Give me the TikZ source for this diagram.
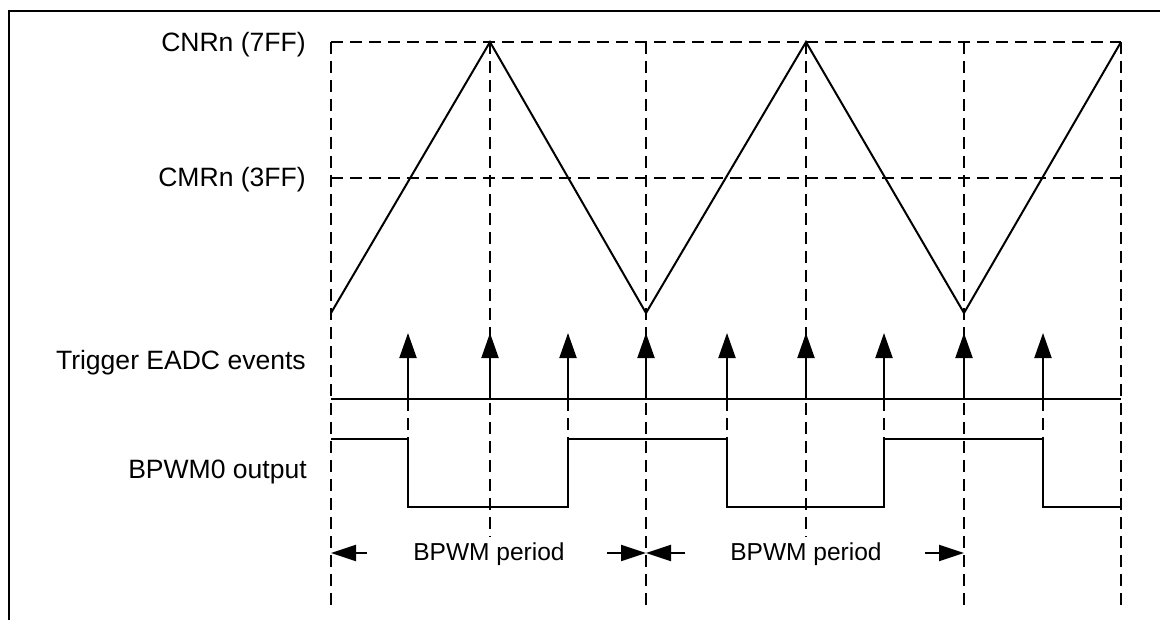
\documentclass[tikz,border=0pt]{standalone}
\usepackage{fontspec}
\setmainfont{Liberation Sans}
\usetikzlibrary{arrows.meta}
\begin{document}
\begin{tikzpicture}[x=0.75pt,y=-0.75pt,
  wave/.style={line width=1.5pt, line join=miter},
  guide/.style={line width=1.5pt, dash pattern=on 9pt off 5.25pt},
  trig/.style={line width=1.5pt, -{Triangle[length=18.75pt,width=12.75pt]}},
  per/.style={line width=1.5pt, -{Triangle[length=18.75pt,width=12pt]}},
  lbl/.style={anchor=base east, inner sep=0pt, font=\fontsize{19.9}{24}\selectfont},
  plbl/.style={anchor=base, inner sep=0pt, font=\fontsize{18.4}{22}\selectfont},
  frameline/.style={line width=1.8pt}]
\useasboundingbox (0,0) rectangle (1160,620);
% frame
\coordinate (fb) at (9,620); \coordinate (fc) at (9,11); \coordinate (fr) at (1160,11);
\draw[frameline] (fb) -- (fc) -- (fr);
% labels
\node[lbl] (cnr) at (306,52) {CNRn (7FF)};
\node[lbl] (cmr) at (306,187) {CMRn (3FF)};
\node[lbl] (trg) at (306,369) {Trigger EADC events};
\node[lbl] (out) at (307,478) {BPWM0 output};
% level guides
\coordinate (cnrL) at (331,42); \coordinate (cnrR) at (1121,42);
\coordinate (cmrL) at (331,178); \coordinate (cmrR) at (1121,178);
\draw[guide] (cnrL) -- (cnrR);
\draw[guide] (cmrL) -- (cmrR);
% full vertical guides
\foreach \n/\x/\yb in {g0/331/607, g1/490/537, g2/646/607, g3/806/537, g4/964/607, g5/1121/607}{
  \coordinate (\n top) at (\x,42);
  \coordinate (\n bot) at (\x,\yb);
  \draw[guide] (\n top) -- (\n bot);
}
% triangle counter
\coordinate (T0) at (331,313); \coordinate (P1) at (490,42);
\coordinate (T1) at (646,313); \coordinate (P2) at (806,42);
\coordinate (T2) at (964,313); \coordinate (P3) at (1121,42);
\draw[wave] (T0) -- (P1) -- (T1) -- (P2) -- (T2) -- (P3);
% trigger baseline
\coordinate (bl) at (331,399); \coordinate (br) at (1121,399);
\draw[wave] (bl) -- (br);
% trigger arrows
\foreach \x [count=\i] in {408,490,568,646,727,806,884,964,1043}{
  \coordinate (e\i) at (\x,399);
  \coordinate (a\i) at (\x,333);
  \draw[trig] (e\i) -- (a\i);
}
% short guides from events to output edges
\foreach \x [count=\i] in {408,568,727,884,1043}{
  \coordinate (s\i a) at (\x,399);
  \coordinate (s\i b) at (\x,439);
  \draw[guide] (s\i a) -- (s\i b);
}
% BPWM0 output
\coordinate (w0) at (331,439);
\draw[wave] (w0) -- (408,439) -- (408,507) -- (568,507) -- (568,439) -- (727,439)
  -- (727,507) -- (884,507) -- (884,439) -- (1043,439) -- (1043,507) -- (1121,507);
% period markers
\coordinate (p1s) at (367,553); \coordinate (p1t) at (331,553);
\coordinate (p2s) at (607,553); \coordinate (p2t) at (646,553);
\coordinate (p3s) at (685,553); \coordinate (p3t) at (646,553);
\coordinate (p4s) at (925,553); \coordinate (p4t) at (964,553);
\draw[per] (p1s) -- (p1t);
\draw[per] (p2s) -- (p2t);
\draw[per] (p3s) -- (p3t);
\draw[per] (p4s) -- (p4t);
\node[plbl] (per1) at (489,560) {BPWM period};
\node[plbl] (per2) at (806,560) {BPWM period};
\end{tikzpicture}
\end{document}
